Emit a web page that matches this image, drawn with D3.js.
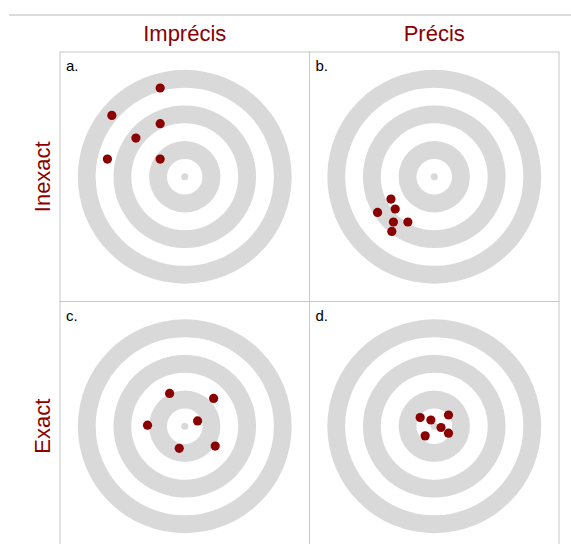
<!DOCTYPE html>
<html>
<head>
<meta charset="utf-8">
<script src="https://cdn.jsdelivr.net/npm/d3@7"></script>
<style>
  html, body { margin: 0; padding: 0; background: #fff; }
  svg { display: block; }
</style>
</head>
<body>
<script>
// ---- data ----
const colLabels = ["Imprécis", "Précis"];
const rowLabels = ["Inexact", "Exact"];
const panelLabels = ["a.", "b.", "c.", "d."];
const ringRadii = [6, 5, 4, 3, 2, 1];
const centerDotRadius = 0.2;
// shots, in target units (centre = 0,0)
const shotsA = [[-1.38, 4.98], [-4.09, 3.44], [-1.38, 2.98], [-2.74, 2.17], [-4.34, 0.99], [-1.38, 0.99]];
const shotsB = [[-2.43, -1.25], [-2.19, -1.81], [-3.18, -2.0], [-2.29, -2.54], [-1.48, -2.54], [-2.38, -3.07]];
const shotsC = [[-0.85, 1.84], [1.62, 1.56], [0.72, 0.30], [-2.09, 0.06], [-0.31, -1.24], [1.71, -1.11]];
const shotsD = [[-0.79, 0.49], [-0.19, 0.35], [0.80, 0.63], [0.38, -0.07], [0.80, -0.39], [-0.51, -0.54]];
const shots = [shotsA, shotsB, shotsC, shotsD];

// ---- layout ----
const W = 571, H = 544;
const panelLeft = 60, panelTop = 52, pw = 249.5;
const red = "#8b0000", ringGray = "#d9d9d9", borderGray = "#c8c8c8";
const font = "'Liberation Sans', Arial, Helvetica, sans-serif";

const svg = d3.select("body").append("svg").attr("width", W).attr("height", H);

svg.append("line").attr("x1", 9).attr("x2", W).attr("y1", 15).attr("y2", 15)
  .attr("stroke", "#d0d0d0").attr("stroke-width", 1.5);

colLabels.forEach((t, i) => {
  svg.append("text").attr("x", panelLeft + pw * i + pw / 2).attr("y", 41)
    .attr("text-anchor", "middle").attr("fill", red)
    .style("font-family", font).style("font-size", "22px").text(t);
});
rowLabels.forEach((t, i) => {
  const cy = panelTop + pw * i + pw / 2;
  svg.append("text").attr("transform", `translate(50,${cy}) rotate(-90)`)
    .attr("text-anchor", "middle").attr("fill", red)
    .style("font-family", font).style("font-size", "22px").text(t);
});

shots.forEach((pts, k) => {
  const col = k % 2, row = Math.floor(k / 2);
  const x0 = panelLeft + col * pw, y0 = panelTop + row * pw;
  const x = d3.scaleLinear().domain([-7, 7]).range([x0, x0 + pw]);
  const y = d3.scaleLinear().domain([-7, 7]).range([y0 + pw, y0]);
  const r = u => x(u) - x(0);
  const g = svg.append("g");
  g.append("rect").attr("x", x0).attr("y", y0).attr("width", pw).attr("height", pw)
    .attr("fill", "none").attr("stroke", borderGray).attr("stroke-width", 1);
  g.selectAll("circle.ring").data(ringRadii).join("circle").attr("class", "ring")
    .attr("cx", x(0)).attr("cy", y(0)).attr("r", d => r(d))
    .attr("fill", (d, i) => i % 2 === 0 ? ringGray : "#fff");
  g.append("circle").attr("cx", x(0)).attr("cy", y(0)).attr("r", r(centerDotRadius)).attr("fill", ringGray);
  g.selectAll("circle.shot").data(pts).join("circle").attr("class", "shot")
    .attr("cx", d => x(d[0])).attr("cy", d => y(d[1])).attr("r", 4.6).attr("fill", red);
  g.append("text").attr("x", x0 + 6).attr("y", y0 + 19)
    .attr("fill", "#000").style("font-family", font).style("font-size", "15px")
    .text(panelLabels[k]);
});
</script>
</body>
</html>
